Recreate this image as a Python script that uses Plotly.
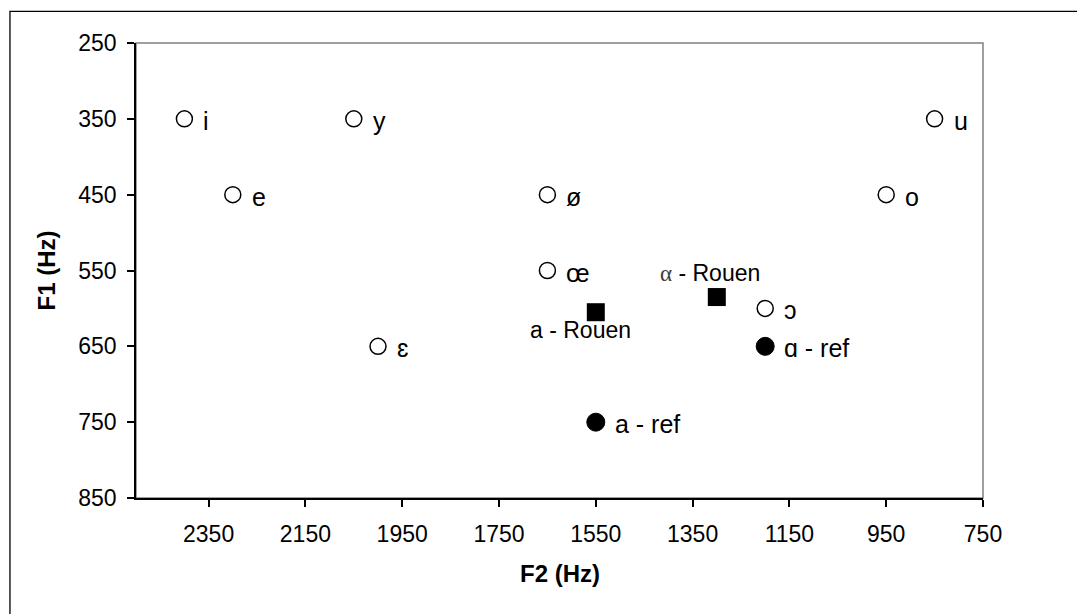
import plotly.graph_objects as go

# Open-circle vowels (reference vowel space)
vowel_labels = ["i", "y", "e", "ø", "œ", "o", "u", "ɛ", "ɔ"]
vowel_f2 = [2400, 2050, 2300, 1650, 1650, 950, 850, 2000, 1200]
vowel_f1 = [350, 350, 450, 450, 550, 450, 350, 650, 600]

# Filled circles: reference /a/ and /ɑ/
ref_labels = ["a - ref", "ɑ - ref"]
ref_f2 = [1550, 1200]
ref_f1 = [750, 650]

# Squares: Rouen /a/ and /ɑ/
rouen_labels = ["a - Rouen", "α - Rouen"]
rouen_f2 = [1550, 1300]
rouen_f1 = [605, 585]

x_ticks = [2350, 2150, 1950, 1750, 1550, 1350, 1150, 950, 750]
y_ticks = [250, 350, 450, 550, 650, 750, 850]

FONT = "Liberation Sans, Arial, sans-serif"

fig = go.Figure()

fig.add_trace(go.Scatter(
    x=vowel_f2, y=vowel_f1, mode="markers",
    marker=dict(symbol="circle", size=16, color="white",
                line=dict(color="black", width=1.5)),
    showlegend=False, hoverinfo="skip"))

fig.add_trace(go.Scatter(
    x=ref_f2, y=ref_f1, mode="markers",
    marker=dict(symbol="circle", size=18, color="black",
                line=dict(color="black", width=1)),
    showlegend=False, hoverinfo="skip"))

fig.add_trace(go.Scatter(
    x=rouen_f2, y=rouen_f1, mode="markers",
    marker=dict(symbol="square", size=18, color="black",
                line=dict(color="black", width=0)),
    showlegend=False, hoverinfo="skip"))

annotations = []
for lab, x, y in zip(vowel_labels + ref_labels, vowel_f2 + ref_f2, vowel_f1 + ref_f1):
    annotations.append(dict(x=x, y=y, xref="x", yref="y", text=lab,
                            showarrow=False, xanchor="left", yanchor="middle",
                            xshift=17, yshift=-2,
                            font=dict(family=FONT, size=25, color="black")))

# Rouen labels
annotations.append(dict(x=rouen_f2[0], y=rouen_f1[0], xref="x", yref="y",
                        text=rouen_labels[0], showarrow=False,
                        xanchor="center", yanchor="middle",
                        xshift=-15, yshift=-18,
                        font=dict(family=FONT, size=23, color="black")))
annotations.append(dict(x=rouen_f2[1], y=rouen_f1[1], xref="x", yref="y",
                        text='<span style="font-family:Liberation Serif, Times New Roman, serif;font-size:23px;color:#404040">α</span> - Rouen',
                        showarrow=False,
                        xanchor="center", yanchor="middle",
                        xshift=-7, yshift=24,
                        font=dict(family=FONT, size=23, color="black")))

# axis titles
annotations.append(dict(x=0.5, y=0, xref="paper", yref="paper", text="<b>F2 (Hz)</b>",
                        showarrow=False, xanchor="center", yanchor="middle",
                        yshift=-75, font=dict(family=FONT, size=24, color="black")))
annotations.append(dict(x=0, y=0.5, xref="paper", yref="paper", text="<b>F1 (Hz)</b>",
                        showarrow=False, xanchor="center", yanchor="middle",
                        xshift=-90, textangle=-90,
                        font=dict(family=FONT, size=24, color="black")))

fig.update_layout(
    width=1085, height=614,
    margin=dict(l=128, r=110, t=35, b=124),
    paper_bgcolor="white", plot_bgcolor="white",
    font=dict(family=FONT, size=23, color="black"),
    annotations=annotations,
    shapes=[
        # plot-area frame (grey top/right)
        dict(type="rect", xref="paper", yref="paper", x0=0, x1=1, y0=0, y1=1,
             line=dict(color="#808080", width=1.5), layer="below"),
        # outer chart border (extends past image on right/bottom)
        dict(type="rect", xref="paper", yref="paper", x0=-0.1488, x1=1.3, y0=-0.5, y1=1.0693,
             line=dict(color="black", width=1.3)),
    ],
)

fig.update_xaxes(
    range=[2500, 750], tickvals=x_ticks, ticktext=[str(v) for v in x_ticks],
    showgrid=False, zeroline=False, showline=True, linecolor="black", linewidth=1.5,
    ticks="outside", ticklen=7, tickwidth=1.5, tickcolor="black",
    ticklabelstandoff=8,
    tickfont=dict(family=FONT, size=23, color="black"), mirror=False)

fig.update_yaxes(
    range=[850, 250], tickvals=y_ticks, ticktext=[str(v) for v in y_ticks],
    showgrid=False, zeroline=False, showline=True, linecolor="black", linewidth=1.5,
    ticks="outside", ticklen=7, tickwidth=1.5, tickcolor="black",
    ticklabelstandoff=6,
    tickfont=dict(family=FONT, size=23, color="black"), mirror=False)

fig.write_html("out.html")
